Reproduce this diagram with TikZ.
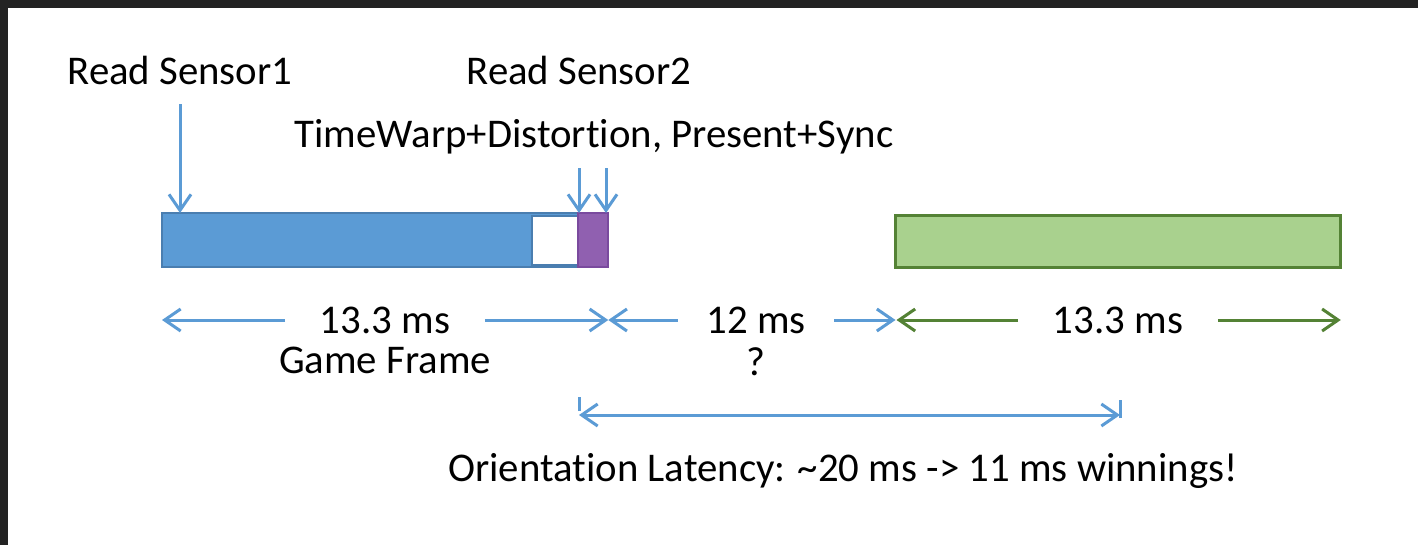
\documentclass[tikz,border=0pt]{standalone}
\usepackage{fontspec}
\setmainfont[Ligatures = {TeX, NoCommon}]{Carlito}
\usetikzlibrary{arrows.meta, positioning}

\definecolor{framedark}{HTML}{232323}
\definecolor{barblue}{HTML}{5B9BD5}
\definecolor{barblueline}{HTML}{4A7EB0}
\definecolor{lineblue}{HTML}{5B9BD5}
\definecolor{warppurple}{HTML}{9060B0}
\definecolor{warpline}{HTML}{7A4A9E}
\definecolor{gpugreen}{HTML}{A9D18E}
\definecolor{gpuline}{HTML}{548235}

\begin{document}
\begin{tikzpicture}[
        x = 0.01cm, y = -0.01cm,
        >= {Straight Barb[length = 1.6mm, width = 2.2mm]},
        txt/.style = {font = \fontsize{11.6}{14}\selectfont, inner sep = 0pt, anchor = base},
        dim/.style = {font = \fontsize{11.6}{14}\selectfont, inner xsep = 0.34cm, inner ysep = 0pt},
        bluearrow/.style = {draw = lineblue, line width = 0.03cm},
        greenarrow/.style = {draw = gpuline, line width = 0.03cm},
        bar/.style = {minimum height = 0.54cm, inner sep = 0pt, outer sep = 0pt, anchor = north west}
    ]
      % frame
      \useasboundingbox (0,0) rectangle (1418,545);
      \fill[white] (0,0) rectangle (1418,545);
      \fill[framedark] (0,0) rectangle (1418,8);
      \fill[framedark] (0,0) rectangle (8,545);

      % bars
      \node[bar, fill = barblue, draw = barblueline, line width = 0.6pt, minimum width = 4.46cm] (game) at (162,213) {};
      \node[bar, fill = white, draw = barblueline, line width = 0.4pt, minimum width = 0.46cm, minimum height = 0.49cm] (idle) at (532,216) {};
      \node[bar, fill = warppurple, draw = warpline, line width = 0.6pt, minimum width = 0.30cm] (warp) at (578,213) {};
      \node[bar, fill = gpugreen, draw = gpuline, line width = 0.03cm, minimum width = 4.45cm, minimum height = 0.52cm] (next) at (895.5,215.5) {};

      % labels on top
      \node[txt] (rs1) at (180,84) {Read Sensor1};
      \node[txt] (rs2) at (579,84) {Read Sensor2};
      \node[txt] (tw) at (594,147) {TimeWarp+Distort\kern0pt ion, Present+Sync};
      \coordinate (twa) at (594,168);

      \draw[bluearrow, ->] ([yshift = -0.2cm]rs1.base) -- (rs1.base |- game.north);
      \draw[bluearrow, ->] ([xshift = 0.01cm]twa -| idle.east) -- ([xshift = 0.01cm]idle.east |- game.north);
      \draw[bluearrow, ->] ([xshift = -0.02cm]twa -| warp.east) -- ([xshift = -0.02cm]warp.north east);

      % durations
      \node[dim] (d1) at (385,320) {13.3 ms};
      \node[txt] (gf) at ([yshift = -0.4cm]d1.base) {Game Frame};
      \draw[bluearrow, ->] (d1.west) -- (d1.west -| game.west);
      \draw[bluearrow, ->] (d1.east) -- (d1.east -| game.east);

      \node[dim, inner xsep = 0.28cm] (d2) at (756,320) {12 ms};
      \node[txt] (q) at ([yshift = -0.42cm]d2.base) {?};
      \draw[bluearrow, ->] (d2.west) -- (d2.west -| game.east);
      \draw[bluearrow, ->] (d2.east) -- (d2.east -| next.west);

      \node[dim] (d3) at (1118,320) {13.3 ms};
      \draw[greenarrow, ->] (d3.west) -- ([xshift = 0.01cm]d3.west -| next.west);
      \draw[greenarrow, ->] (d3.east) -- (d3.east -| next.east);

      % latency
      \coordinate (lat1) at (579,415);
      \coordinate (lat2) at (1120,415);
      \draw[bluearrow, <->] (lat1) -- (lat2);
      \draw[bluearrow] ([yshift = 0.04cm]lat1) -- ([yshift = 0.18cm]lat1);
      \draw[bluearrow] ([yshift = -0.03cm]lat2) -- ([yshift = 0.15cm]lat2);
      \node[txt] (lat) at (843,481) {Orientat\kern0pt ion Latency: \textasciitilde20 ms -> 11 ms winnings!};
    \end{tikzpicture}
\end{document}
